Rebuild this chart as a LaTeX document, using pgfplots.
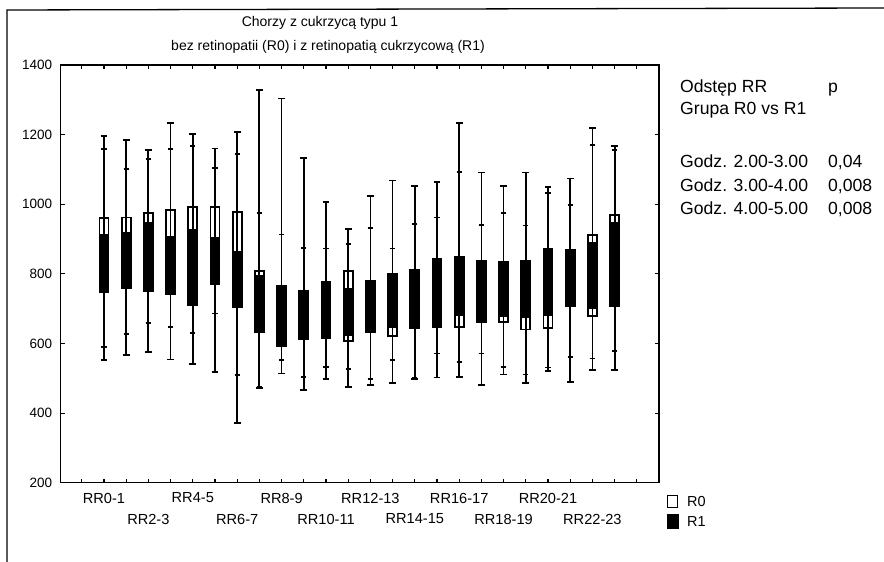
\documentclass[border=0pt]{standalone}
\usepackage{pgfplots}
\pgfplotsset{compat=1.18}
\usepackage{pgfplotstable}
\usepgfplotslibrary{statistics}
\usepackage{fontspec}
\setmainfont{Liberation Sans}

% R0 group (white boxes)
\pgfplotstableread{
lw  lq  med uq  uw
552 747 850 960 1196
566 759 860 962 1184
575 749 860 974 1156
554 741 860 983 1234
541 710 850 991 1202
517 771 880 993 1160
372 705 840 978 1208
471 632 720 809 1328
514 600 680 760 1304
466 620 680 745 1132
499 625 700 770 1007
475 608 700 809 928
480 640 700 775 1024
487 621 700 795 1068
498 650 720 805 1053
502 652 740 835 1065
504 648 750 845 1234
480 665 740 830 1091
511 662 740 828 1052
487 640 740 832 1091
522 645 760 868 1050
490 712 780 862 1074
523 679 800 911 1218
523 707 830 969 1167
}\tblA

% R1 group (black boxes)
\pgfplotstableread{
lw  lq  med uq  uw
589 747 830 911 1158
627 759 840 919 1102
659 749 850 945 1129
648 741 820 905 1158
629 710 820 926 1167
686 771 840 904 1103
509 705 780 863 1144
475 632 710 795 974
552 592 680 765 913
504 612 680 751 875
533 616 700 777 873
526 624 690 758 885
499 634 700 780 931
552 648 720 801 873
500 645 730 811 943
571 646 740 842 962
547 681 760 849 1093
571 662 750 838 940
533 679 760 833 974
511 677 760 838 939
531 681 780 873 1033
560 708 790 868 998
557 701 790 889 1170
578 707 820 945 1156
}\tblB

\pgfplotsset{boxplot/draw/median/.code={}}

\newcommand\getrow[2]{% table, row
  \pgfplotstablegetelem{#2}{lw}\of#1\edef\vlw{\pgfplotsretval}%
  \pgfplotstablegetelem{#2}{lq}\of#1\edef\vlq{\pgfplotsretval}%
  \pgfplotstablegetelem{#2}{med}\of#1\edef\vmed{\pgfplotsretval}%
  \pgfplotstablegetelem{#2}{uq}\of#1\edef\vuq{\pgfplotsretval}%
  \pgfplotstablegetelem{#2}{uw}\of#1\edef\vuw{\pgfplotsretval}%
}

\begin{document}
\begin{tikzpicture}
\useasboundingbox (0,0) rectangle (884bp,562bp);
\draw[line width=1.3bp] (7bp,0bp) -- (7bp,552bp) -- (884bp,554bp);
\begin{axis}[
  boxplot/draw direction=y,
  at={(60.7bp,79.3bp)}, anchor=south west,
  scale only axis, width=598.3bp, height=417.7bp,
  xmin=-1.95, xmax=25, ymin=200, ymax=1400,
  xtick={-1,...,24},
  xticklabels={{},RR0-1,{},{},{},RR4-5,{},{},{},RR8-9,{},{},{},RR12-13,{},{},{},RR16-17,{},{},{},RR20-21,{},{},{},{}},
  extra x ticks={2,6,10,14,18,22},
  extra x tick labels={RR2-3,RR6-7,RR10-11,RR14-15,RR18-19,RR22-23},
  extra x tick style={xticklabel style={yshift=-21bp}},
  xticklabel style={anchor=center, yshift=-15.3bp, font=\fontsize{14.6bp}{16bp}\selectfont},
  ytick={200,400,...,1400},
  yticklabel style={xshift=-5bp, font=\fontsize{13.5bp}{15bp}\selectfont},
  /pgf/number format/assume math mode=true,
  /pgf/number format/1000 sep={},
  tick align=inside,
  major tick length=4bp,
  tick style={black, line width=1.1pt},
  axis line style={line width=1.6pt},
]
\pgfplotsinvokeforeach{0,...,23}{
  \getrow{\tblA}{#1}
  \edef\mycmd{\noexpand\addplot[boxplot prepared={draw position=#1, lower whisker=\vlw, lower quartile=\vlq, median=\vmed, upper quartile=\vuq, upper whisker=\vuw, box extend=0.4, whisker extend=0.3},
    draw=black, fill=white, line width=1.8pt] coordinates {};}
  \mycmd
  \getrow{\tblB}{#1}
  \edef\mycmd{\noexpand\addplot[boxplot prepared={draw position=#1, lower whisker=\vlw, lower quartile=\vlq, median=\vmed, upper quartile=\vuq, upper whisker=\vuw, box extend=0.4, whisker extend=0.24},
    draw=black, fill=black, line width=1.8pt] coordinates {};}
  \mycmd
}
\end{axis}
\begin{scope}[every node/.style={inner sep=0pt}]
\node[anchor=base, font=\fontsize{14bp}{16bp}\selectfont] at (320bp,535bp) {Chorzy z cukrzycą typu 1};
\node[anchor=base, font=\fontsize{14bp}{16bp}\selectfont] at (328bp,511bp) {bez retinopatii (R0) i z retinopatią cukrzycową (R1)};
\begin{scope}[every node/.append style={anchor=base west, font=\fontsize{17.6bp}{19bp}\selectfont}]
\node at (680bp,469.1bp) {Odstęp RR};
\node at (828bp,469.1bp) {p};
\node at (680bp,447.7bp) {Grupa R0 vs R1};
\node at (680bp,394bp) {Godz. 2.00-3.00};
\node at (828bp,394bp) {0,04};
\node at (680bp,370.7bp) {Godz. 3.00-4.00};
\node at (828bp,370.7bp) {0,008};
\node at (680bp,347.4bp) {Godz. 4.00-5.00};
\node at (828bp,347.4bp) {0,008};
\end{scope}
\draw[line width=1.2pt, fill=white] (667.5bp,54.5bp) rectangle (677.5bp,66.5bp);
\fill[black] (667bp,33bp) rectangle (679bp,48bp);
\node[anchor=base west, font=\fontsize{14.5bp}{16bp}\selectfont] at (687bp,55.3bp) {R0};
\node[anchor=base west, font=\fontsize{14.5bp}{16bp}\selectfont] at (687bp,35.3bp) {R1};
\end{scope}
\end{tikzpicture}
\end{document}
